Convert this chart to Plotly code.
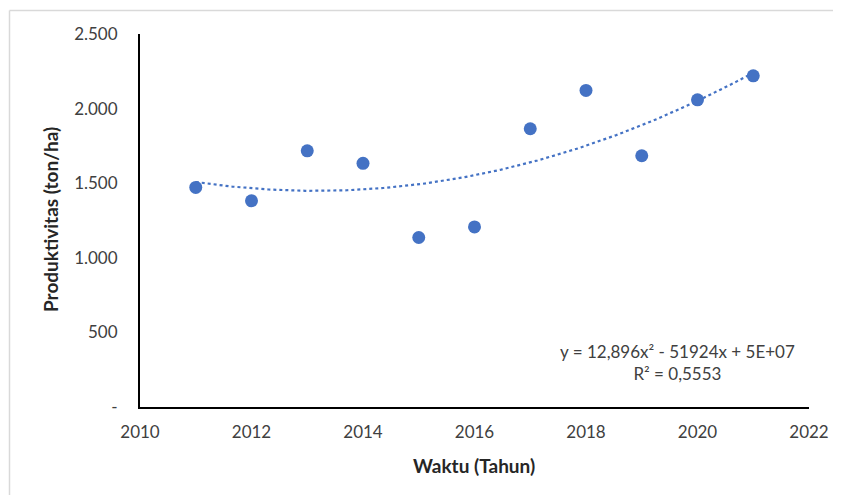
import numpy as np
import plotly.graph_objects as go

years = [2011, 2012, 2013, 2014, 2015, 2016, 2017, 2018, 2019, 2020, 2021]
productivity = [1472, 1382, 1717, 1633, 1136, 1207, 1865, 2122, 1684, 2059, 2220]

y_tick_vals = [0, 500, 1000, 1500, 2000, 2500]
y_tick_text = ["-", "500", "1.000", "1.500", "2.000", "2.500"]
x_tick_vals = [2010, 2012, 2014, 2016, 2018, 2020, 2022]
x_tick_text = ["2010", "2012", "2014", "2016", "2018", "2020", "2022"]

equation_text = "y = 12,896x² - 51924x + 5E+07<br>R² = 0,5553"

BLUE = "#4472C4"
FONT = "Lato, 'Open Sans', sans-serif"

# polynomial (order 2) trendline fitted to the data
xa = np.array(years, dtype=float)
ya = np.array(productivity, dtype=float)
coef = np.polyfit(xa - 2016, ya, 2)
xt = np.linspace(xa.min(), xa.max(), 200)
yt = np.polyval(coef, xt - 2016)

fig = go.Figure()
fig.add_trace(go.Scatter(x=xt, y=yt, mode="lines",
                         line=dict(color=BLUE, width=2.2, dash="dot"),
                         hoverinfo="skip", showlegend=False))
fig.add_trace(go.Scatter(x=years, y=productivity, mode="markers",
                         marker=dict(color=BLUE, size=13),
                         showlegend=False))

OFF = 8  # page body margin
W, H = 841 - OFF, 495 - OFF
L, T = 140 - OFF, 34 - OFF
R = W - (809 - OFF)
B = H - (407 - OFF)
pw, ph = W - L - R, H - T - B

def px_x(p):  # page pixel -> paper x
    return (p - OFF - L) / pw

def px_y(p):  # page pixel -> paper y
    return (H - B - (p - OFF)) / ph

fig.update_layout(
    width=W, height=H,
    margin=dict(l=L, r=R, t=T, b=B),
    paper_bgcolor="white", plot_bgcolor="white",
    font=dict(family=FONT, size=17, color="#404040"),
    xaxis=dict(range=[2010, 2022], tickvals=x_tick_vals, ticktext=x_tick_text,
               showgrid=False, zeroline=False, showline=True,
               linecolor="black", linewidth=2, ticks="",
               ticklabelstandoff=9,
               tickfont=dict(family=FONT, size=17, color="#404040")),
    yaxis=dict(range=[0, 2500], tickvals=y_tick_vals, ticktext=y_tick_text,
               showgrid=False, zeroline=False, showline=True,
               linecolor="black", linewidth=2, ticks="",
               ticklabelstandoff=17,
               tickfont=dict(family=FONT, size=17, color="#404040")),
    annotations=[
        dict(text=equation_text, xref="paper", yref="paper",
             x=px_x(677), y=px_y(362), xanchor="center", yanchor="middle",
             showarrow=False, align="center",
             font=dict(family=FONT, size=17, color="#404040")),
        dict(text="<b>Produktivitas (ton/ha)</b>", xref="paper", yref="paper",
             x=px_x(50), y=px_y(220), xanchor="center", yanchor="middle",
             textangle=-90, showarrow=False,
             font=dict(family=FONT, size=19, color="#262626")),
        dict(text="<b>Waktu (Tahun)</b>", xref="paper", yref="paper",
             x=px_x(474), y=px_y(465), xanchor="center", yanchor="middle",
             showarrow=False,
             font=dict(family=FONT, size=19, color="#262626")),
    ],
    shapes=[
        dict(type="line", xref="paper", yref="paper",
             x0=px_x(9.5), x1=px_x(845), y0=px_y(10.5), y1=px_y(10.5),
             line=dict(color="#d9d9d9", width=1.5)),
        dict(type="line", xref="paper", yref="paper",
             x0=px_x(9.5), x1=px_x(9.5), y0=px_y(10.5), y1=px_y(500),
             line=dict(color="#d9d9d9", width=1.5)),
    ],
)

fig.write_html("out.html")
